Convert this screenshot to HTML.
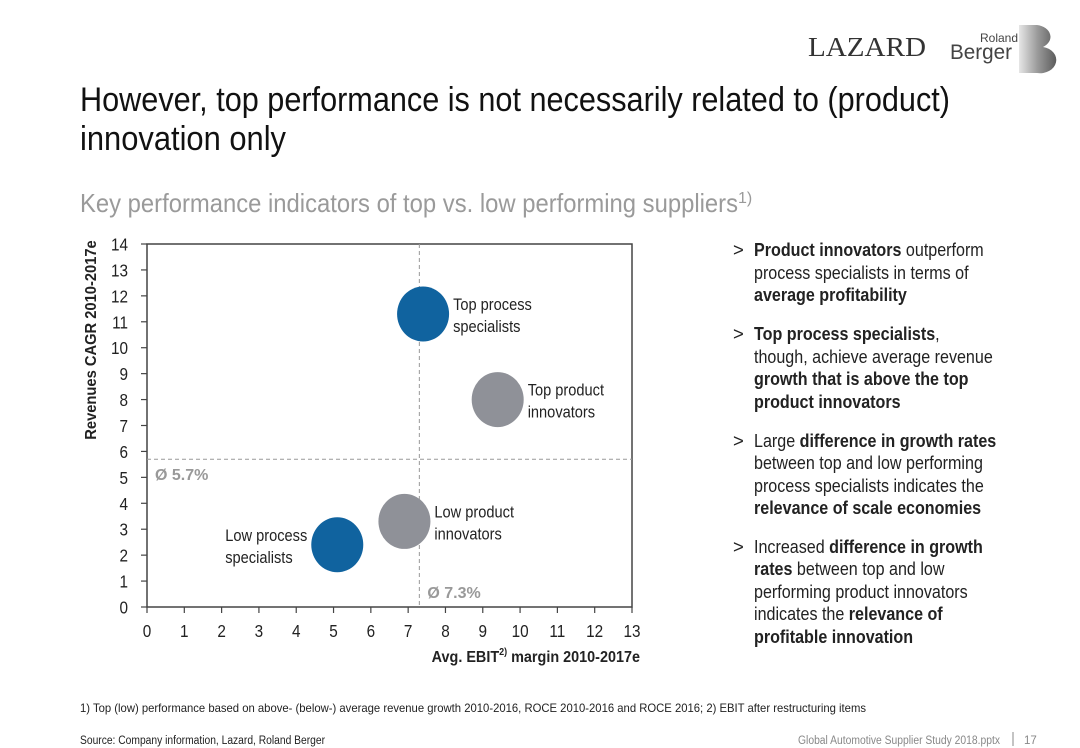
<!DOCTYPE html>
<html><head><meta charset="utf-8"><style>
html,body{margin:0;padding:0;background:#fff;}
svg{display:block;font-family:"Liberation Sans",Arial,sans-serif;}
</style></head><body>
<svg id="page" width="1080" height="748" viewBox="0 0 1080 748">
<defs>
<linearGradient id="bg" x1="0" x2="1" y1="0" y2="0"><stop offset="0" stop-color="#e6e6e6"/><stop offset="0.5" stop-color="#9a9a9a"/><stop offset="1" stop-color="#5c5c5c"/></linearGradient>
</defs>
<g>
<text x="808" y="56" font-family="Liberation Serif,serif" font-size="27" fill="#333" textLength="118" lengthAdjust="spacingAndGlyphs">LAZARD</text>
<text x="980" y="42" font-size="12" fill="#444">Roland</text>
<text x="950" y="59" font-size="21" fill="#444" textLength="62" lengthAdjust="spacingAndGlyphs">Berger</text>
<path d="M1019 25 h18 a16 12 0 0 1 6 22 a16 13 0 0 1 -6 26 h-18 z" fill="url(#bg)"/>
</g>
<text x="80" y="111" font-size="34" fill="#111" textLength="870" lengthAdjust="spacingAndGlyphs">However, top performance is not necessarily related to (product)</text>
<text x="80" y="150" font-size="34" fill="#111" textLength="206" lengthAdjust="spacingAndGlyphs">innovation only</text>
<text x="80" y="212" font-size="26" fill="#9a9a9a"><tspan textLength="658" lengthAdjust="spacingAndGlyphs">Key performance indicators of top vs. low performing suppliers</tspan><tspan font-size="16" dy="-9">1)</tspan></text>

<g id="chart"></g>

<g font-size="18.5" fill="#222">
<g transform="translate(733,0)">
<text x="0" y="256">&gt;</text><text x="0" y="340">&gt;</text><text x="0" y="447">&gt;</text><text x="0" y="553">&gt;</text>
</g>
<g transform="translate(754,0) scale(0.87,1)">
<text y="256"><tspan font-weight="bold">Product innovators</tspan> outperform</text>
<text y="279">process specialists in terms of</text>
<text y="301" font-weight="bold">average profitability</text>
<text y="340"><tspan font-weight="bold">Top process specialists</tspan>,</text>
<text y="363">though, achieve average revenue</text>
<text y="385" font-weight="bold">growth that is above the top</text>
<text y="408" font-weight="bold">product innovators</text>
<text y="447">Large <tspan font-weight="bold">difference in growth rates</tspan></text>
<text y="469">between top and low performing</text>
<text y="492">process specialists indicates the</text>
<text y="514" font-weight="bold">relevance of scale economies</text>
<text y="553">Increased <tspan font-weight="bold">difference in growth</tspan></text>
<text y="575"><tspan font-weight="bold">rates</tspan> between top and low</text>
<text y="598">performing product innovators</text>
<text y="620">indicates the <tspan font-weight="bold">relevance of</tspan></text>
<text y="643" font-weight="bold">profitable innovation</text>
</g>
</g>

<text x="80" y="712" font-size="12" fill="#222" textLength="786" lengthAdjust="spacingAndGlyphs">1) Top (low) performance based on above- (below-) average revenue growth 2010-2016, ROCE 2010-2016 and ROCE 2016; 2) EBIT after restructuring items</text>
<text x="80" y="744" font-size="11.5" fill="#222" textLength="245" lengthAdjust="spacingAndGlyphs">Source: Company information, Lazard, Roland Berger</text>
<text x="798" y="744" font-size="11.5" fill="#888" textLength="202" lengthAdjust="spacingAndGlyphs">Global Automotive Supplier Study 2018.pptx</text>
<line x1="1013" y1="732" x2="1013" y2="746" stroke="#888"/>
<text x="1024" y="744" font-size="11.5" fill="#888">17</text>
</svg>
<script>
const categories = ["Top process specialists","Top product innovators","Low product innovators","Low process specialists"];
const ebitValues = [7.4, 9.4, 6.9, 5.1];
const cagrValues = [11.3, 8.0, 3.3, 2.4];
const bubbleColors = ["#10639f","#8f9198","#8f9198","#10639f"];
const labelLines = [["Top process","specialists"],["Top product","innovators"],["Low product","innovators"],["Low process","specialists"]];
const labelSide = ["right","right","right","left"];
const xTicks = [0,1,2,3,4,5,6,7,8,9,10,11,12,13];
const yTicks = [0,1,2,3,4,5,6,7,8,9,10,11,12,13,14];
const avgEbit = 7.3;
const avgCagr = 5.7;

const NS = "http://www.w3.org/2000/svg";
const X0 = 147, X1 = 632, Y0 = 607, Y1 = 244;
const xS = v => X0 + (v - 0) / 13 * (X1 - X0);
const yS = v => Y0 - (v - 0) / 14 * (Y0 - Y1);
const chart = document.getElementById("chart");
function mk(tag, attrs, parent) {
  const e = document.createElementNS(NS, tag);
  for (const k in attrs) e.setAttribute(k, attrs[k]);
  (parent || chart).appendChild(e);
  return e;
}
const frame = mk("rect", {x:X0, y:Y1, width:X1-X0, height:Y0-Y1, fill:"none", stroke:"#444", "stroke-width":1.5});



xTicks.forEach(t => {
  const l = mk("line", {x1:xS(t), x2:xS(t), y1:Y0, y2:Y0+6, stroke:"#444", "stroke-width":1.2});
  
  
  const tx = mk("text", {x:xS(t), y:Y0+30, "font-size":18, fill:"#222", "text-anchor":"middle", transform:`translate(${xS(t)},0) scale(0.85,1) translate(${-xS(t)},0)`});
  tx.textContent = t;
  
  
});
yTicks.forEach(t => {
  const l = mk("line", {x1:X0-6, x2:X0, y1:yS(t), y2:yS(t), stroke:"#444", "stroke-width":1.2});
  
  
  const tx = mk("text", {x:0, y:0, "font-size":18, fill:"#222", "text-anchor":"end", transform:`translate(128,${yS(t)+6.5}) scale(0.85,1)`});
  tx.textContent = t;
  
  
});

const vl = mk("line", {x1:xS(avgEbit), x2:xS(avgEbit), y1:Y1, y2:Y0, stroke:"#999", "stroke-dasharray":"4,3"});


const hl = mk("line", {x1:X0, x2:X1, y1:yS(avgCagr), y2:yS(avgCagr), stroke:"#999", "stroke-dasharray":"4,3"});


const ha = mk("text", {x:X0+8, y:yS(avgCagr)+21, "font-size":16, "font-weight":"bold", fill:"#999"});
ha.textContent = "Ø " + avgCagr.toFixed(1) + "%";


const va = mk("text", {x:xS(avgEbit)+8, y:Y0-9, "font-size":16, "font-weight":"bold", fill:"#999"});
va.textContent = "Ø " + avgEbit.toFixed(1) + "%";



categories.forEach((c, i) => {
  const cx = xS(ebitValues[i]), cy = yS(cagrValues[i]);
  const b = mk("ellipse", {cx:cx, cy:cy, rx:26, ry:27.5, fill:bubbleColors[i]});
  
  
  const right = labelSide[i] === "right";
  const lx = right ? cx + 30 : cx - 112;
  labelLines[i].forEach((ln, j) => {
    const t = mk("text", {x:lx, y:cy - 4 + j*22, "font-size":17, fill:"#222", transform:`translate(${lx},0) scale(0.86,1) translate(${-lx},0)`});
    t.textContent = ln;
    
    
  });
});

const yt = mk("text", {x:0, y:0, "font-size":16, "font-weight":"bold", fill:"#222", "text-anchor":"middle", transform:"translate(96,340) rotate(-90) scale(0.92,1)"});
yt.textContent = "Revenues CAGR 2010-2017e";


const xt = mk("text", {x:0, y:0, "font-size":16, "font-weight":"bold", fill:"#222", "text-anchor":"end", transform:"translate(640,662) scale(0.9,1)"});
xt.innerHTML = 'Avg. EBIT<tspan font-size="10" dy="-7">2)</tspan><tspan dy="7"> margin 2010-2017e</tspan>';


</script>
</body></html>
